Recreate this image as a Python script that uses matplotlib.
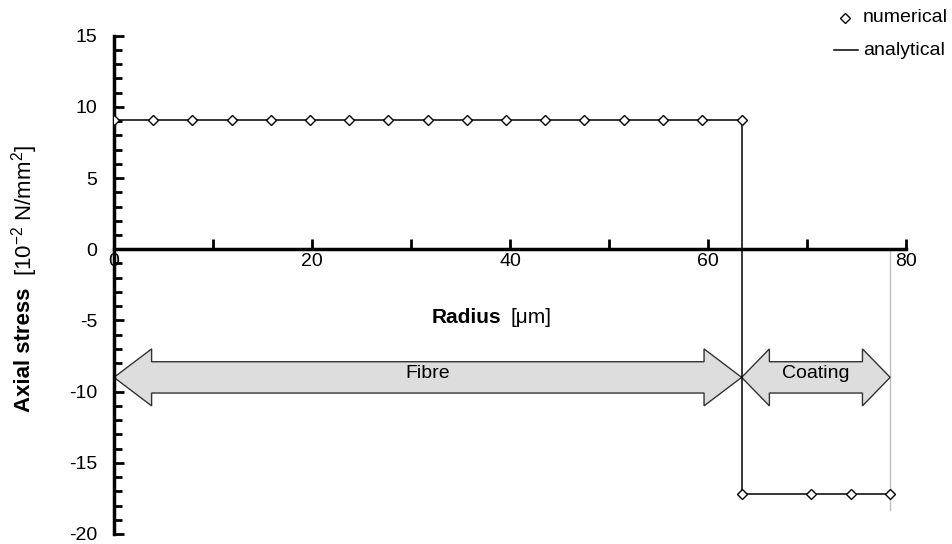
import matplotlib.pyplot as plt
import numpy as np
from matplotlib.patches import Polygon
from matplotlib.ticker import MultipleLocator

plt.rcParams['font.family'] = ['Liberation Sans', 'DejaVu Sans']
plt.rcParams['axes.unicode_minus'] = False
plt.rcParams['mathtext.fontset'] = 'custom'
plt.rcParams['mathtext.rm'] = 'Liberation Sans'

# numerical results (radius in um, stress in 10^-2 N/mm^2)
r_num = [0, 3.96, 7.92, 11.88, 15.84, 19.8, 23.76, 27.72, 31.68, 35.64,
         39.6, 43.56, 47.52, 51.48, 55.44, 59.4, 63.4,
         63.4, 70.4, 74.4, 78.4]
s_num = [9.08] * 17 + [-17.18] * 4

# analytical step solution
r_ana = [0, 63.4, 63.4, 78.4]
s_ana = [9.08, 9.08, -17.18, -17.18]

# regions for the arrows
regions = ['Fibre', 'Coating']
region_edges = [0, 63.4, 78.4]
arrow_y = -9.0

fig = plt.figure(figsize=(9.53, 5.44), dpi=100)
ax = fig.add_axes([0.1196, 0.0184, 0.8311, 0.916])

ax.plot(r_ana, s_ana, color='black', lw=1.1, zorder=3)
ax.plot(r_num, s_num, ls='none', marker='D', ms=4.7, mfc='white', mec='black',
        mew=1.0, zorder=4)

# thin gray line at outer radius
ax.plot([region_edges[-1], region_edges[-1]], [0, -18.3], color='#c0c0c0', lw=1, zorder=1)

# double arrows
for name, a, b in zip(regions, region_edges[:-1], region_edges[1:]):
    hl = 3.8 if (b - a) > 30 else 2.8
    bw, hw = 1.1, 2.0
    pts = [(a, arrow_y), (a + hl, arrow_y + hw), (a + hl, arrow_y + bw),
           (b - hl, arrow_y + bw), (b - hl, arrow_y + hw), (b, arrow_y),
           (b - hl, arrow_y - hw), (b - hl, arrow_y - bw), (a + hl, arrow_y - bw),
           (a + hl, arrow_y - hw)]
    ax.add_patch(Polygon(pts, closed=True, fc='#dddddd', ec='#333333', lw=1, zorder=2))
    ax.text((a + b) / 2, arrow_y + 0.3, name, ha='center', va='center', fontsize=14)

ax.set_xlim(0, 80)
ax.set_ylim(-20, 15)
ax.spines['top'].set_visible(False)
ax.spines['right'].set_visible(False)
ax.spines['bottom'].set_position(('data', 0))
ax.spines['left'].set_linewidth(2.5)
ax.spines['bottom'].set_linewidth(2.5)

ax.xaxis.set_major_locator(MultipleLocator(20))
ax.xaxis.set_minor_locator(MultipleLocator(10))
ax.yaxis.set_major_locator(MultipleLocator(5))
ax.yaxis.set_minor_locator(MultipleLocator(1))
ax.tick_params(axis='both', which='both', direction='in', width=2, labelsize=14)
ax.tick_params(axis='x', which='both', length=7, pad=3)
ax.tick_params(axis='y', which='major', length=7, pad=12)
ax.tick_params(axis='y', which='minor', length=6)

fig.text(0.4533, 0.4155, 'Radius', ha='left', va='center', fontsize=15, fontweight='bold')
fig.text(0.5355, 0.4155, '[\u03bcm]', ha='left', va='center', fontsize=15)

fig.text(0.026, 0.357, 'Axial stress', rotation=90, ha='center', va='center',
         fontsize=16, fontweight='bold')
fig.text(0.026, 0.614, r'[10$^{-2}$ N/mm$^2$]', rotation=90, ha='center', va='center',
         fontsize=16)

# legend
fig.text(0.9056, 0.967, 'numerical', ha='left', va='center', fontsize=14)
fig.text(0.9056, 0.908, 'analytical', ha='left', va='center', fontsize=14)
fig.lines.append(plt.Line2D([0.8867], [0.967], transform=fig.transFigure, marker='D',
                            ms=4.7, mfc='white', mec='black', mew=1, ls='none'))
fig.lines.append(plt.Line2D([0.875, 0.900], [0.908, 0.908], transform=fig.transFigure,
                            color='black', lw=1.1))

fig.savefig('out.png', dpi=100)
